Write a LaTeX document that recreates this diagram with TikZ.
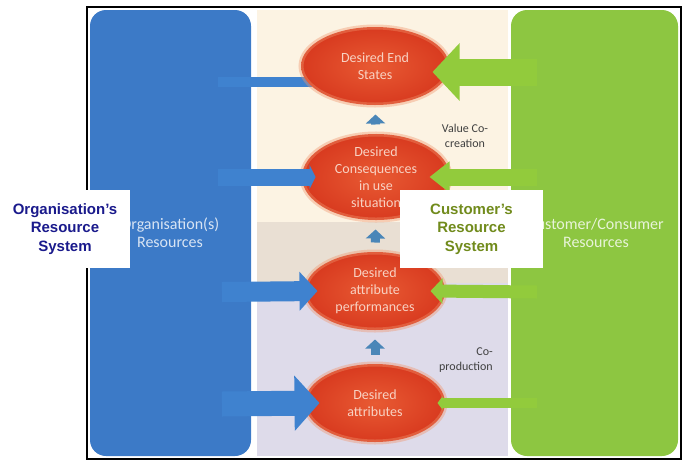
\documentclass[tikz,border=0pt]{standalone}
\usepackage{fontspec}
\setmainfont{Carlito}
\newfontfamily\labelfont{Liberation Sans}
\usetikzlibrary{shapes.geometric,arrows.meta,positioning}
\definecolor{orgblue}{HTML}{3C7AC7}
\definecolor{cusgreen}{HTML}{8DC641}
\definecolor{bgcream}{HTML}{FCF3E3}
\definecolor{bgtan}{HTML}{E9DFD3}
\definecolor{bglav}{HTML}{DEDBEA}
\definecolor{goallight}{HTML}{E85A33}
\definecolor{goaldark}{HTML}{D83A1F}
\definecolor{goalglow}{HTML}{F0946C}
\definecolor{goaltext}{HTML}{F8D2C3}
\definecolor{arrblue}{HTML}{3F82CF}
\definecolor{arrgreen}{HTML}{92CB3C}
\definecolor{upblue}{HTML}{4A86B8}
\definecolor{orgnavy}{HTML}{1A1A8C}
\definecolor{cusolive}{HTML}{718B1C}

\begin{document}
\begin{tikzpicture}[x=1pt,y=-1pt,
  panel/.style={rounded corners=16pt},
  goal/.style={ellipse, inner sep=0pt, align=center,
    minimum width=148pt, minimum height=78pt,
    font=\fontsize{14}{17}\selectfont, text=goaltext,
    draw=goalglow, draw opacity=0.4, line width=5pt,
    shading=radial, inner color=goallight, outer color=goaldark},
  paneltext/.style={align=center, text=white, text opacity=0.8,
    font=\fontsize{16}{18}\selectfont},
  note/.style={text=black!75, font=\fontsize{12}{15}\selectfont},
  syslabel/.style={fill=white, align=center, inner sep=0pt,
    minimum height=78pt, font=\labelfont\bfseries\fontsize{15}{18.5}\selectfont},
  orgarrow/.style={draw=arrblue},
  cusarrow/.style={draw=arrgreen},
  uparrow/.style={draw=upblue, line width=9pt, shorten <=7pt, shorten >=7pt,
    -{Triangle[length=9pt,width=19pt]}}
]
\useasboundingbox (0,0) rectangle (685,464);

% panels and bands
\fill[orgblue, panel] (90,10) rectangle (251,456);
\fill[cusgreen, panel] (511,10) rectangle (678,456);
\fill[bgcream] (257,10) rectangle (508,222);
\fill[bgtan] (257,222) rectangle (508,283);
\fill[bglav] (257,283) rectangle (508,456);

\node[paneltext] (orgres) at (170,233) {Organisation(s)\\Resources};
\node[paneltext] (cusres) at (596,233) {Customer/Consumer\\Resources};

\coordinate (o1) at (218,82);
\coordinate (t1) at (312,82);
\draw[orgarrow, line width=10pt] (o1) -- (t1);

% desired goals
\node[goal] (e1) at (375,66) {Desired End\\States};
\node[goal] (e2) at (376,177) {Desired\\Consequences\\in use\\situation};
\node[goal, minimum width=140pt] (e3) at (375,291) {Desired\\attribute\\performances};
\node[goal, minimum width=140pt] (e4) at (375,403) {Desired\\attributes};

\draw[uparrow] (e2) -- (e1);
\draw[uparrow] (e3) -- (e2);
\draw[uparrow] (e4) -- (e3);

\coordinate (o2) at (218,177);
\coordinate (o3) at (222,292);
\coordinate (o4) at (222,404);
\draw[orgarrow, line width=17pt, -{Triangle[length=6pt,width=24pt]}] (o2) -- ([xshift=16pt]e2.west);
\draw[orgarrow, line width=20pt, -{Triangle[length=18pt,width=38pt]}] (o3) -- ([xshift=15pt]e3.west);
\draw[orgarrow, line width=25pt, -{Triangle[length=25pt,width=54pt]}] (o4) -- ([xshift=17pt]e4.west);

\coordinate (c1) at (537,72);
\coordinate (c2) at (537,177);
\coordinate (c3) at (537,292);
\coordinate (c4) at (537,403);
\draw[cusarrow, line width=27pt, -{Triangle[length=27pt,width=56pt]}] (c1) -- ([yshift=-6pt, xshift=-19pt]e1.east);
\draw[cusarrow, line width=17pt, -{Triangle[length=20pt,width=30pt]}] (c2) -- ([xshift=-23pt]e2.east);
\draw[cusarrow, line width=13pt, -{Triangle[length=12pt,width=25pt]}] (c3) -- ([xshift=-17pt]e3.east);
\draw[cusarrow, line width=10pt, -{Triangle[length=5pt,width=13pt]}] (c4) -- ([xshift=-10pt]e4.east);

\node[note, align=center] (cocreate) at (465,136) {Value Co-\\creation};
\node[note, align=right] (coprod) at (466,360) {Co-\\production};

\draw[line width=2pt] (87,7) rectangle (681,459);

\node[syslabel, text=orgnavy, minimum width=130pt] (orgsys) at (65,229) {Organisation’s\\Resource\\System};
\node[syslabel, text=cusolive, minimum width=143pt] (cussys) at (471.5,229) {Customer’s\\Resource\\System};

\end{tikzpicture}
\end{document}
